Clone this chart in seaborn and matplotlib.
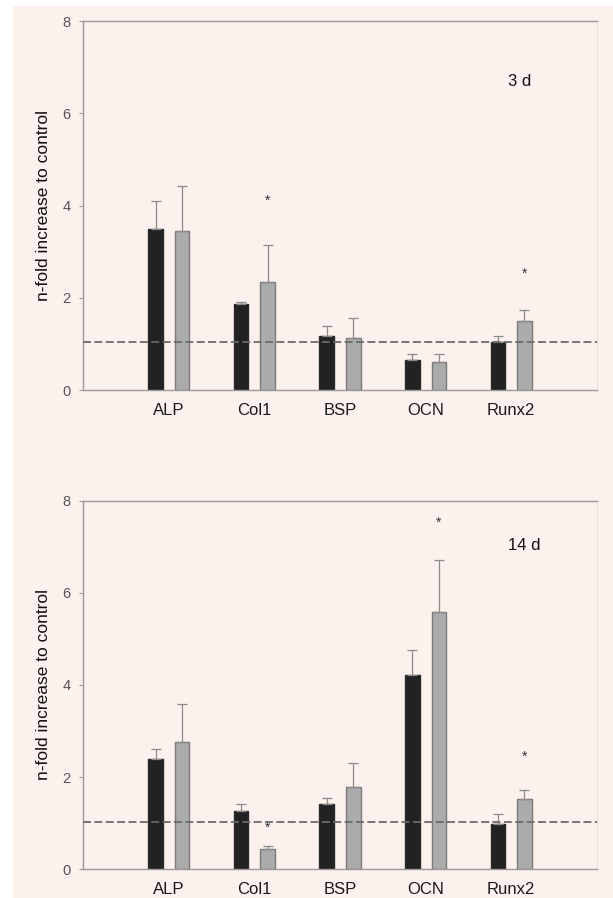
import numpy as np
import pandas as pd
import matplotlib
matplotlib.use("Agg")
import matplotlib.pyplot as plt
from matplotlib.patches import Rectangle
import seaborn as sns

# genes on the x axis
genes = ["ALP", "Col1", "BSP", "OCN", "Runx2"]

# 3 d panel: dark and light series, upper error, significance stars
d3_dark = [3.48, 1.86, 1.18, 0.66, 1.05]
d3_dark_err = [0.62, 0.05, 0.21, 0.11, 0.13]
d3_light = [3.45, 2.34, 1.12, 0.60, 1.50]
d3_light_err = [0.98, 0.80, 0.45, 0.17, 0.23]
d3_stars = [None, 4.10, None, None, 2.53]

# 14 d panel
d14_dark = [2.39, 1.26, 1.42, 4.22, 0.98]
d14_dark_err = [0.21, 0.16, 0.12, 0.53, 0.21]
d14_light = [2.76, 0.43, 1.79, 5.59, 1.53]
d14_light_err = [0.82, 0.08, 0.51, 1.12, 0.19]
d14_stars = [None, 0.90, None, 7.52, 2.44]

control_level = 1.03
y_ticks = [0, 2, 4, 6, 8]

plt.rcParams["font.family"] = ["Liberation Sans", "DejaVu Sans"]

bg = "#fcf1ec"
fig = plt.figure(figsize=(6.13, 8.98), dpi=100)
fig.patch.set_facecolor("white")
bg_rect = Rectangle((13 / 613, 0), 1 - 13 / 613, 1 - 6 / 898,
                    transform=fig.transFigure, facecolor=bg,
                    edgecolor="none", zorder=-10)
fig.add_artist(bg_rect)


def draw_panel(ax, dark, dark_err, light, light_err, stars, label, label_xy):
    df = pd.DataFrame({
        "gene": genes * 2,
        "value": dark + light,
        "series": ["dark"] * len(genes) + ["light"] * len(genes),
    })
    sns.barplot(data=df, x="gene", y="value", hue="series",
                palette={"dark": "#222222", "light": "#ababab"},
                width=0.62, gap=0.45, errorbar=None, legend=False, ax=ax,
                linewidth=1, zorder=2)

    for cont, err, ec in zip(ax.containers, [dark_err, light_err], ["#2a2a2a", "#7a7a7a"]):
        xs, hs = [], []
        for p in cont:
            p.set_edgecolor(ec)
            xs.append(p.get_x() + p.get_width() / 2)
            hs.append(p.get_height())
        ax.errorbar(xs, hs, yerr=[np.zeros(len(err)), err], fmt="none",
                    ecolor="#8a8a8a", elinewidth=0.9, capsize=3.5,
                    capthick=0.9, zorder=3)

    light_x = [p.get_x() + p.get_width() / 2 for p in ax.containers[1]]
    for x, s in zip(light_x, stars):
        if s is not None:
            ax.text(x, s, "*", ha="center", va="center", fontsize=10,
                    color="#333333")

    ax.axhline(control_level, color="#6a6a6a", lw=1.3, ls=(0, (4.4, 1.9)),
               zorder=5)

    ax.text(label_xy[0], label_xy[1], label, ha="center", va="center",
            fontsize=12, color="#111111")

    ax.set_facecolor(bg)
    ax.set_xlim(-1, 5)
    ax.set_ylim(0, 8)
    ax.set_yticks(y_ticks)
    ax.set_xlabel("")
    ax.set_ylabel("n-fold increase to control", fontsize=12.5, color="#111111")
    ax.yaxis.set_label_coords(-0.062, 0.5)
    for side in ["left", "bottom", "top"]:
        ax.spines[side].set_color("#9a9a9a")
        ax.spines[side].set_linewidth(1)
    ax.spines["right"].set_color("#ece0db")
    ax.spines["right"].set_linewidth(0.8)
    ax.tick_params(axis="y", length=3, width=0.8, color="#9a9a9a",
                   labelcolor="#555555", labelsize=10.5, pad=6)
    ax.tick_params(axis="x", length=0, labelcolor="#1a1a1a",
                   labelsize=12, pad=9)


ax_top = fig.add_axes([0.1359, 0.5657, 0.8375, 0.4109])
ax_bot = fig.add_axes([0.1359, 0.0320, 0.8375, 0.4105])

draw_panel(ax_top, d3_dark, d3_dark_err, d3_light, d3_light_err, d3_stars,
           "3 d", (4.10, 6.68))
draw_panel(ax_bot, d14_dark, d14_dark_err, d14_light, d14_light_err, d14_stars,
           "14 d", (4.15, 7.03))

fig.savefig("out.png", dpi=100, facecolor=fig.get_facecolor())
